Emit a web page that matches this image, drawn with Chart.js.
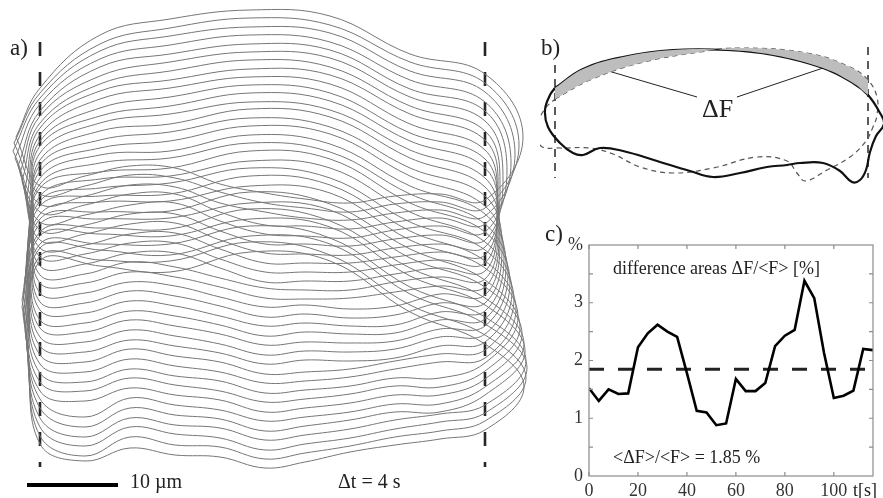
<!DOCTYPE html>
<html>
<head>
<meta charset="utf-8">
<script src="https://cdn.jsdelivr.net/npm/chart.js@4.4.1/dist/chart.umd.min.js"></script>
<style>
  body { margin:0; background:#fff; width:883px; height:498px; position:relative; overflow:hidden;
         font-family:"Liberation Serif","Times New Roman",serif; color:#222; }
  canvas { position:absolute; }
  .t { position:absolute; white-space:nowrap; line-height:1; }
</style>
</head>
<body>
<canvas id="pa" width="540" height="498" style="left:0px;top:0px"></canvas>
<canvas id="pb" width="343" height="200" style="left:540px;top:0px"></canvas>
<canvas id="pc" width="343" height="270" style="left:540px;top:228px"></canvas>

<div class="t" style="left:10px;top:36px;font-size:23px">a)</div>
<div class="t" style="left:130px;top:471px;font-size:20px">10 µm</div>
<div class="t" style="left:338px;top:471px;font-size:20px">Δt = 4 s</div>
<div class="t" style="left:541px;top:36px;font-size:23px">b)</div>
<div class="t" style="left:702px;top:96px;font-size:26px">ΔF</div>
<div class="t" style="left:545px;top:222px;font-size:23px">c)</div>
<div class="t" style="left:613px;top:259px;font-size:18px">difference areas ΔF/&lt;F&gt; [%]</div>
<div class="t" style="left:613px;top:448px;font-size:18px">&lt;ΔF&gt;/&lt;F&gt; = 1.85 %</div>
<div class="t" style="left:853px;top:481px;font-size:18px">t[s]</div>

<script>
// ---- panel a: cell contours, one per frame (Δt = 4 s), figure units ----
const TOP_X = [40, 100, 170, 250, 330, 410, 485];
const BOTTOM_X = [485, 440, 395, 350, 305, 265, 220, 175, 130, 85, 40];

const frameTop = [
  [88, 35, 19, 10, 16, 54, 74],
  [93, 44, 28, 18, 25, 62, 83],
  [98, 51, 36, 27, 33, 71, 92],
  [104, 59, 45, 35, 42, 80, 102],
  [111, 67, 54, 44, 50, 89, 111],
  [116, 76, 62, 52, 58, 97, 121],
  [123, 84, 71, 60, 67, 106, 131],
  [128, 91, 80, 69, 75, 114, 140],
  [135, 99, 88, 77, 84, 124, 150],
  [141, 108, 97, 85, 93, 133, 159],
  [146, 116, 106, 93, 101, 141, 168],
  [153, 123, 114, 102, 110, 150, 178],
  [160, 131, 124, 109, 117, 158, 187],
  [165, 140, 132, 118, 127, 168, 196],
  [171, 148, 141, 126, 134, 176, 206],
  [178, 155, 151, 135, 144, 186, 214],
  [184, 163, 158, 143, 152, 194, 224],
  [188, 172, 168, 151, 159, 203, 232],
  [196, 179, 176, 161, 168, 212, 242],
  [201, 188, 183, 168, 178, 222, 250],
  [206, 196, 194, 176, 185, 231, 261],
  [214, 202, 201, 186, 193, 240, 268],
  [219, 212, 211, 192, 204, 249, 280],
  [224, 219, 218, 203, 210, 258, 287],
  [232, 228, 229, 209, 221, 268, 298],
  [236, 234, 236, 219, 227, 276, 305],
  [244, 244, 244, 226, 238, 287, 317],
  [248, 250, 255, 236, 244, 294, 324],
  [256, 260, 261, 242, 255, 305, 335],
  [261, 266, 272, 252, 261, 312, 344]
];

const frameBottom = [
  [200, 194, 196, 203, 199, 193, 184, 168, 166, 176, 186],
  [208, 202, 204, 212, 208, 203, 192, 178, 175, 186, 194],
  [216, 210, 213, 220, 218, 212, 203, 187, 185, 196, 204],
  [224, 218, 222, 229, 226, 225, 212, 194, 194, 205, 212],
  [232, 226, 230, 238, 236, 234, 221, 203, 205, 215, 222],
  [240, 235, 239, 246, 244, 244, 231, 214, 214, 225, 230],
  [247, 244, 248, 255, 254, 253, 240, 223, 224, 234, 240],
  [255, 252, 257, 263, 263, 263, 249, 233, 234, 245, 248],
  [263, 260, 265, 272, 272, 272, 259, 243, 243, 254, 257],
  [271, 268, 274, 281, 281, 282, 268, 253, 253, 264, 266],
  [279, 277, 282, 290, 290, 288, 278, 267, 262, 274, 275],
  [287, 286, 292, 298, 299, 298, 287, 277, 272, 283, 283],
  [295, 294, 306, 309, 305, 307, 297, 286, 282, 293, 293],
  [303, 303, 315, 318, 314, 317, 306, 296, 291, 303, 302],
  [311, 312, 325, 326, 323, 326, 316, 306, 301, 313, 310],
  [319, 320, 333, 334, 332, 336, 325, 316, 311, 323, 320],
  [326, 329, 341, 343, 342, 345, 334, 326, 320, 332, 328],
  [334, 337, 349, 352, 351, 355, 344, 336, 330, 342, 337],
  [342, 346, 358, 361, 360, 364, 353, 346, 340, 352, 346],
  [350, 354, 361, 369, 372, 374, 362, 356, 349, 362, 355],
  [358, 362, 369, 377, 381, 383, 372, 366, 359, 372, 364],
  [363, 378, 378, 386, 390, 393, 381, 376, 369, 382, 373],
  [371, 387, 386, 394, 399, 402, 391, 385, 378, 391, 382],
  [379, 395, 395, 403, 408, 412, 400, 395, 388, 401, 391],
  [387, 404, 404, 412, 417, 421, 410, 405, 398, 417, 399],
  [395, 412, 412, 420, 426, 431, 419, 415, 408, 427, 408],
  [405, 414, 420, 429, 435, 440, 428, 425, 418, 437, 418],
  [413, 422, 429, 438, 444, 450, 438, 434, 427, 446, 427],
  [421, 431, 437, 446, 453, 459, 447, 445, 437, 456, 436],
  [430, 439, 445, 452, 462, 468, 457, 455, 448, 461, 444]
];

const leftBulge = [
  [16,137],[14,143],[13,151],[15,158],[18,166],[20,173],[22,181],[25,188],[27,196],[29,203],
  [31,210],[32,218],[33,226],[32,233],[31,240],[29,249],[28,256],[27,262],[26,271],[25,278],
  [24,285],[23,293],[22,300],[22,307],[23,315],[24,322],[25,331],[26,337],[27,346],[28,352]
];
const rightBulge = [
  [523,137],[519,145],[515,154],[511,163],[507,171],[503,180],[500,189],[498,197],[497,206],[497,215],
  [498,223],[499,232],[500,241],[502,249],[504,258],[506,266],[508,275],[510,283],[512,292],[514,300],
  [516,309],[518,317],[520,327],[522,334],[524,344],[525,351],[526,361],[527,368],[526,378],[524,387]
];

const edgeGuidesA = [40, 485];      // dashed reference lines
const scaleBar = [[27, 485], [118, 485]]; // 10 µm

// ---- panel b: two outlines and their difference areas ----
const solidTop = [[555,88],[583,69],[623,57],[673,50],[727,50],[773,55],[823,68],[853,83],[868,95]];
const solidRest = [[880,113],[884,124],[876,136],[870,152],[866,170],[860,180],[852,182],[840,171],[823,163],
  [800,163],[787,165],[767,167],[740,173],[713,177],[690,171],[657,161],[623,151],[600,148],[583,155],
  [573,153],[560,143],[548,127],[545,110],[550,95],[555,88]];
const dashedTop = [[555,99],[590,80],[640,63],[700,52],[740,48],[807,53],[850,67],[868,80]];
const dashedRest = [[877,97],[877,115],[873,127],[866,141],[850,157],[827,170],[805,181],[797,173],[787,161],
  [757,157],[713,168],[673,173],[640,167],[613,154],[590,148],[560,148],[541,146],[537,128],[544,110],[555,99]];
const leaderLines = [[[605,70],[697,97]], [[826,67],[737,97]]];
const edgeGuidesB = [[555, 65, 178], [868, 47, 178]];

// ---- panel c: difference areas vs time ----
const times = [0,4,8,12,16,20,24,28,32,36,40,44,48,52,56,60,64,68,72,76,80,84,88,92,96,100,104,108,112,116];
const diffArea = [1.52,1.30,1.50,1.42,1.43,2.23,2.47,2.62,2.50,2.41,1.78,1.13,1.10,0.88,0.91,
  1.68,1.47,1.47,1.61,2.25,2.43,2.53,3.38,3.08,2.13,1.35,1.39,1.48,2.20,2.18];
const meanDiff = 1.85;

Chart.defaults.animation = false;
Chart.defaults.font.family = '"Liberation Serif","Times New Roman",serif';

const pt = p => ({x: p[0], y: p[1]});
const hiddenScales = (x0, x1, y0, y1) => ({
  x: {type: 'linear', min: x0, max: x1, display: false},
  y: {type: 'linear', min: y0, max: y1, reverse: true, display: false}
});
const baseOpts = scales => ({
  responsive: false, devicePixelRatio: 1, events: [],
  layout: {padding: 0},
  plugins: {legend: {display: false}, tooltip: {enabled: false}},
  elements: {point: {radius: 0}},
  scales
});

// panel a
const contourSets = frameTop.map((top, k) => {
  const pts = [pt(leftBulge[k])];
  TOP_X.forEach((x, i) => pts.push({x, y: top[i]}));
  pts.push(pt(rightBulge[k]));
  BOTTOM_X.forEach((x, i) => pts.push({x, y: frameBottom[k][i]}));
  pts.push(pt(leftBulge[k]));
  return {data: pts, borderColor: '#767676', borderWidth: 1, tension: 0.4, fill: false};
});
const guideSetsA = edgeGuidesA.map(x => ({
  data: [{x, y: 42}, {x, y: 467}], borderColor: '#262626', borderWidth: 2.6,
  borderDash: [14, 16], tension: 0, fill: false
}));

new Chart(document.getElementById('pa'), {
  type: 'line',
  data: {datasets: [...contourSets, ...guideSetsA,
    {data: scaleBar.map(pt), borderColor: '#000', borderWidth: 4, borderCapStyle: 'butt', fill: false}]},
  options: Object.assign(baseOpts(hiddenScales(0, 540, 0, 498)), {clip: false})
});

// panel b
new Chart(document.getElementById('pb'), {
  type: 'line',
  data: {datasets: [
    {data: solidTop.map(pt), borderWidth: 0, tension: 0.4, fill: 1, backgroundColor: '#bdbdbd'},
    {data: dashedTop.map(pt), borderWidth: 0, tension: 0.4, fill: false},
    {data: [...solidTop, ...solidRest].map(pt), borderColor: '#111', borderWidth: 2.2, tension: 0.4, fill: false},
    {data: [...dashedTop, ...dashedRest].map(pt), borderColor: '#555', borderWidth: 1.2, borderDash: [5, 4], tension: 0.4, fill: false},
    ...edgeGuidesB.map(g => ({data: [{x: g[0], y: g[1]}, {x: g[0], y: g[2]}], borderColor: '#333',
      borderWidth: 1.6, borderDash: [8, 6], fill: false})),
    ...leaderLines.map(l => ({data: l.map(pt), borderColor: '#222', borderWidth: 1, fill: false}))
  ]},
  options: baseOpts(hiddenScales(540, 883, 0, 200))
});

// panel c
const boxTicks = {
  id: 'boxTicks',
  afterDraw(chart) {
    const {ctx, chartArea: a, scales: {x, y}} = chart;
    ctx.save();
    ctx.strokeStyle = '#8c8c8c';
    ctx.lineWidth = 1.2;
    ctx.strokeRect(a.left, a.top, a.right - a.left, a.bottom - a.top);
    ctx.beginPath();
    for (let v = 0.5; v < 4; v += 0.5) {
      const py = y.getPixelForValue(v);
      ctx.moveTo(a.left, py); ctx.lineTo(a.left + 4, py);
      ctx.moveTo(a.right, py); ctx.lineTo(a.right - 4, py);
    }
    x.ticks.forEach(t => {
      const px = x.getPixelForValue(t.value);
      ctx.moveTo(px, a.bottom); ctx.lineTo(px, a.bottom - 4);
      ctx.moveTo(px, a.top); ctx.lineTo(px, a.top + 4);
    });
    ctx.stroke();
    ctx.restore();
  }
};

const tickFont = {size: 18};
new Chart(document.getElementById('pc'), {
  type: 'line',
  data: {datasets: [
    {data: times.map((t, i) => ({x: t, y: diffArea[i]})), borderColor: '#000', borderWidth: 2.6, tension: 0, fill: false},
    {data: [{x: times[0], y: meanDiff}, {x: times[times.length - 1], y: meanDiff}], borderColor: '#222',
      borderWidth: 3, borderDash: [15, 14], fill: false}
  ]},
  options: {
    responsive: false, devicePixelRatio: 1, events: [],
    layout: {padding: {top: 17, right: 10, left: 0, bottom: 0}},
    plugins: {legend: {display: false}, tooltip: {enabled: false}},
    elements: {point: {radius: 0}},
    scales: {
      x: {type: 'linear', min: 0, max: 116, grid: {display: false, drawTicks: false}, border: {display: false},
        ticks: {stepSize: 20, includeBounds: false, padding: 4, color: '#333', font: tickFont, maxRotation: 0},
        afterFit(s) { s.height = 22; }},
      y: {type: 'linear', min: 0, max: 4, grid: {display: false, drawTicks: false}, border: {display: false},
        ticks: {stepSize: 1, padding: 6, color: '#333', font: tickFont, callback: v => v === 4 ? '%' : v},
        afterFit(s) { s.width = 49; }}
    }
  },
  plugins: [boxTicks]
});
</script>
</body>
</html>
